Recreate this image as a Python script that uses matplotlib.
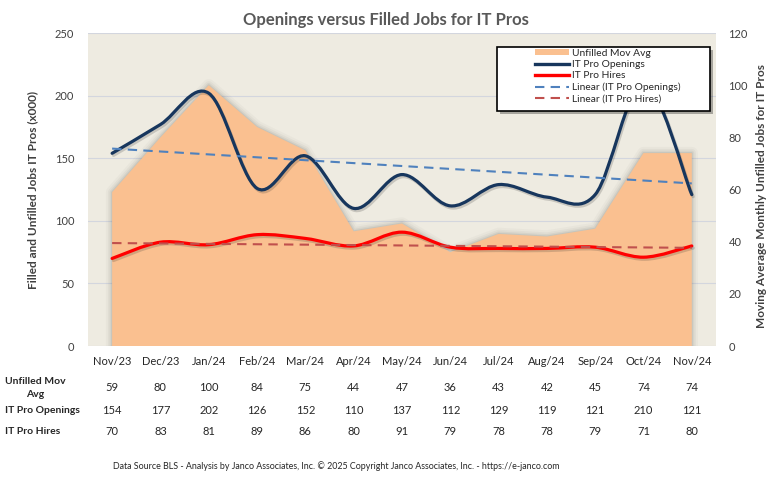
import numpy as np
import matplotlib
matplotlib.use('Agg')
import matplotlib.pyplot as plt
from matplotlib.path import Path
from matplotlib.patches import PathPatch, Patch, Rectangle
from matplotlib.lines import Line2D
import matplotlib.patheffects as pe
import matplotlib.transforms as mtrans

months = ["Nov/23", "Dec/23", "Jan/24", "Feb/24", "Mar/24", "Apr/24", "May/24",
          "Jun/24", "Jul/24", "Aug/24", "Sep/24", "Oct/24", "Nov/24"]
unfilled = [59, 80, 100, 84, 75, 44, 47, 36, 43, 42, 45, 74, 74]
openings = [154, 177, 202, 126, 152, 110, 137, 112, 129, 119, 121, 210, 121]
hires = [70, 83, 81, 89, 86, 80, 91, 79, 78, 78, 79, 71, 80]

title = "Openings versus Filled Jobs for IT Pros"
left_label = "Filled and Unfilled Jobs IT Pros (x000)"
right_label = "Moving Average Monthly Unfilled Jobs for IT Pros"
footer = ("Data Source BLS - Analysis by Janco Associates, Inc. \u00a9 2025 Copyright "
          "Janco Associates, Inc. - https://e-janco.com")
row_labels = ["Unfilled Mov\nAvg", "IT Pro Openings", "IT Pro Hires"]
legend_labels = ["Unfilled Mov Avg", "IT Pro Openings", "IT Pro Hires",
                 "Linear (IT Pro Openings)", "Linear (IT Pro Hires)"]

FONT = ['Lato', 'DejaVu Sans']
plt.rcParams['font.family'] = FONT

C_AREA = '#FAC090'
C_NAVY = '#17365D'
C_RED = '#FF0000'
C_TBLUE = '#4F81BD'
C_TRED = '#C0504D'
C_BG = '#EEEBE1'

fig = plt.figure(figsize=(7.69, 4.8), dpi=100)
ax = fig.add_axes([0.1144, 0.279, 0.8166, 0.652])
ax2 = ax.twinx()
x = np.arange(len(months))
ax.set_xlim(-0.5, len(months) - 0.5)
ax.set_ylim(0, 250)
ax2.set_ylim(0, 120)
ax.set_facecolor(C_BG)
ax.set_yticks(range(0, 251, 50))
ax2.set_yticks(range(0, 121, 20))
ax.grid(axis='y', color='#D3D6DE', lw=0.8)
ax.set_axisbelow(True)
for a in (ax, ax2):
    for s in a.spines.values():
        s.set_visible(False)

# area (secondary axis scale) with soft shadow
for lw, al in [(9, 0.035), (6, 0.05), (3.5, 0.07), (1.5, 0.1)]:
    ax.fill_between(x, unfilled, 0, transform=ax2.transData, facecolor='none',
                    edgecolor='#505050', lw=lw, alpha=al, zorder=1, joinstyle='round')
ax.fill_between(x, unfilled, 0, transform=ax2.transData, facecolor=C_AREA,
                edgecolor='none', zorder=1.1)


def smooth_path(xs, ys):
    pts = np.column_stack([xs, ys]).astype(float)
    n = len(pts)
    verts = [pts[0]]
    codes = [Path.MOVETO]
    for i in range(n - 1):
        p0 = pts[i - 1] if i > 0 else pts[i]
        p1 = pts[i]
        p2 = pts[i + 1]
        p3 = pts[i + 2] if i + 2 < n else pts[i + 1]
        c1 = p1 + (p2 - p0) / 6.0
        c2 = p2 - (p3 - p1) / 6.0
        verts += [c1, c2, p2]
        codes += [Path.CURVE4] * 3
    return Path(verts, codes)


shadow = [pe.SimpleLineShadow(offset=(1.0, -1.5), shadow_color='#303030', alpha=0.2),
          pe.Normal()]
for ys, col in [(openings, C_NAVY), (hires, C_RED)]:
    patch = PathPatch(smooth_path(x, ys), facecolor='none', edgecolor=col, lw=2.3,
                      capstyle='round', joinstyle='round', zorder=3, path_effects=shadow)
    ax.add_patch(patch)

# linear trend lines
ends = x[[0, -1]]
for ys, col in [(openings, C_TBLUE), (hires, C_TRED)]:
    coef = np.polyfit(x, ys, 1)
    ax.plot(ends, np.polyval(coef, ends), ls=(0, (4.5, 3)), color=col, lw=1.5, zorder=4)

# ticks
ax.set_xticks(x, months)
ax.tick_params(axis='x', length=0, pad=7, labelsize=8, labelcolor='#262626')
ax.tick_params(axis='y', length=0, pad=10, labelsize=8, labelcolor='#404040')
ax2.tick_params(axis='y', length=0, pad=9, labelsize=8, labelcolor='#404040')

ax.set_ylabel(left_label, fontweight='bold', fontsize=8.5, color='#404040')
ax.yaxis.set_label_coords(-0.080, 0.5)
ax2.set_ylabel(right_label, fontweight='bold', fontsize=8.5, color='#404040')
ax2.yaxis.set_label_coords(1.064, 0.48)

# legend box (wide, Excel-like) and entries
box_x0, box_x1 = 0.651, 0.990
box_y0, box_y1 = 0.751, 0.955
ax2.add_patch(Rectangle((box_x0 + 0.005, box_y0 - 0.01), box_x1 - box_x0, box_y1 - box_y0,
                        transform=ax2.transAxes, facecolor='#000000', alpha=0.3,
                        edgecolor='none', zorder=8, clip_on=False))
ax2.add_patch(Rectangle((box_x0, box_y0), box_x1 - box_x0, box_y1 - box_y0,
                        transform=ax2.transAxes, facecolor='white', edgecolor='black',
                        lw=1.2, zorder=9, clip_on=False))
handles = [Patch(facecolor=C_AREA, edgecolor='none'),
           Line2D([], [], color=C_NAVY, lw=2.4),
           Line2D([], [], color=C_RED, lw=2.4),
           Line2D([], [], color=C_TBLUE, lw=1.5, ls=(0, (4.5, 3))),
           Line2D([], [], color=C_TRED, lw=1.5, ls=(0, (4.5, 3)))]
leg = ax2.legend(handles, legend_labels, loc='upper left', bbox_to_anchor=(0.712, 0.950),
                 frameon=False, fontsize=7.4, handlelength=3.3, handleheight=0.6,
                 borderpad=0, labelspacing=0.22, handletextpad=0.3, borderaxespad=0)
for t in leg.get_texts():
    t.set_color('#262626')
leg.set_zorder(10)

# data table
trans = mtrans.blended_transform_factory(ax.transData, fig.transFigure)
rows_y = [0.192, 0.144, 0.102]
for vals, yy in zip([unfilled, openings, hires], rows_y):
    for xi, v in zip(x, vals):
        ax.text(xi, yy, str(v), transform=trans, ha='center', va='center', fontsize=8,
                color='#262626', clip_on=False)
for lab, yy in zip(row_labels, rows_y):
    fig.text(0.006, yy, lab, ha='left', va='center', multialignment='center', fontsize=7.5,
             fontweight='bold', color='#262626', linespacing=1.6)

fig.text(0.502, 0.958, title, ha='center', va='center', fontsize=12, fontweight='bold',
         color='#595959')
fig.text(0.437, 0.029, footer, ha='center', va='center', fontsize=6.4, color='#262626')

fig.savefig('out.png', dpi=100)
